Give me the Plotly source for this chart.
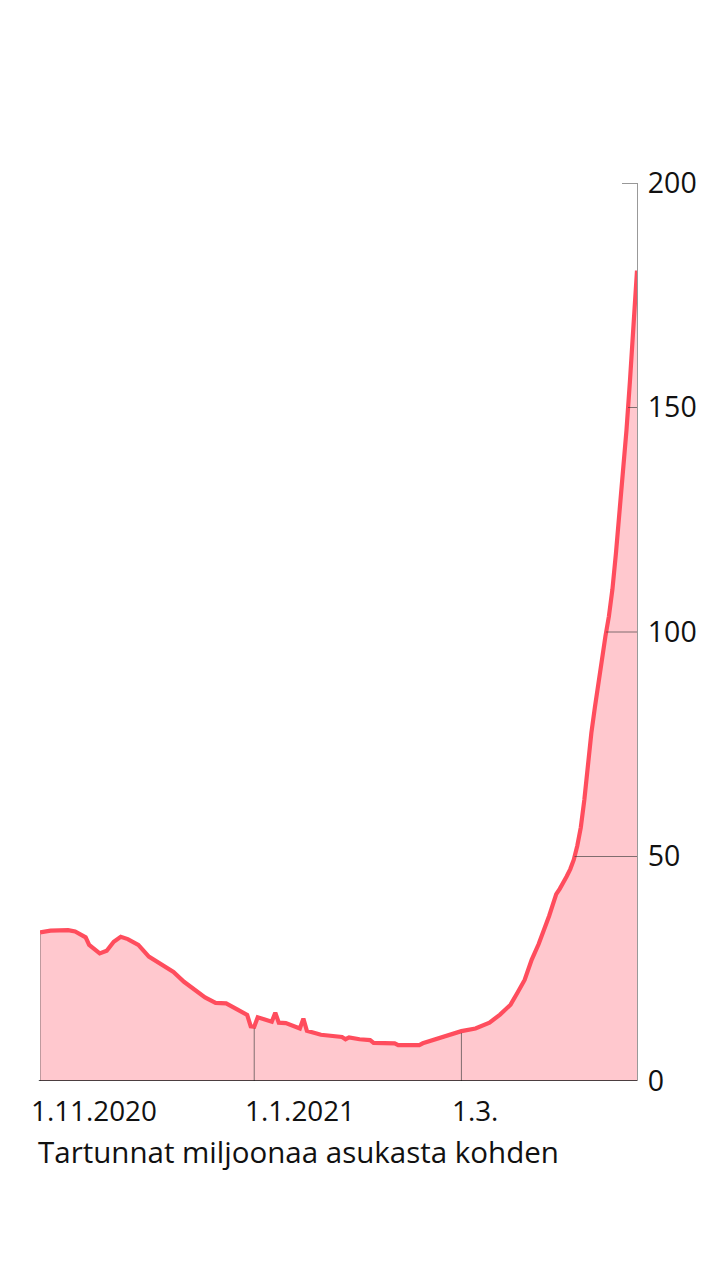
import plotly.graph_objects as go
import pandas as pd
import numpy as np

dates = [
    "2020-11-01", "2020-11-04", "2020-11-09", "2020-11-11", "2020-11-14", "2020-11-15",
    "2020-11-18", "2020-11-20", "2020-11-22", "2020-11-24", "2020-11-26", "2020-11-29",
    "2020-12-02", "2020-12-06", "2020-12-09", "2020-12-12", "2020-12-15", "2020-12-18",
    "2020-12-21", "2020-12-24", "2020-12-27", "2020-12-30", "2020-12-31",
    "2021-01-01", "2021-01-02", "2021-01-05", "2021-01-06", "2021-01-07", "2021-01-08",
    "2021-01-10", "2021-01-14", "2021-01-15", "2021-01-16", "2021-01-20", "2021-01-24",
    "2021-01-26", "2021-01-27", "2021-01-28", "2021-01-31", "2021-02-03", "2021-02-04",
    "2021-02-07", "2021-02-10", "2021-02-11", "2021-02-17", "2021-02-18", "2021-02-22",
    "2021-02-25", "2021-03-01", "2021-03-05", "2021-03-09", "2021-03-12", "2021-03-15",
    "2021-03-17", "2021-03-19", "2021-03-21", "2021-03-23", "2021-03-26", "2021-03-28",
    "2021-03-29", "2021-03-30", "2021-03-31", "2021-04-01", "2021-04-02", "2021-04-03",
    "2021-04-04", "2021-04-05", "2021-04-06", "2021-04-07", "2021-04-08", "2021-04-09",
    "2021-04-10", "2021-04-11", "2021-04-12", "2021-04-13", "2021-04-14", "2021-04-15",
    "2021-04-16", "2021-04-17", "2021-04-18", "2021-04-19", "2021-04-20",
]
cases = [
    33.1, 33.5, 33.6, 33.3, 32.0, 30.3,
    28.4, 29.0, 31.0, 32.1, 31.6, 30.3,
    27.7, 25.7, 24.3, 22.1, 20.4, 18.6,
    17.4, 17.3, 16.0, 14.7, 12.2,
    12.1, 14.2, 13.4, 13.2, 15.2, 13.0,
    12.9, 11.7, 13.9, 11.2, 10.3, 10.0,
    9.8, 9.3, 9.7, 9.3, 9.1, 8.5,
    8.4, 8.4, 8.0, 8.0, 8.4, 9.3,
    10.2, 11.1, 11.7, 13.0, 14.8, 17.0,
    19.7, 22.5, 27.0, 30.5, 36.8, 41.6,
    42.8, 44.0, 45.6, 47.2, 49.3, 52.4,
    56.5, 62.6, 70.5, 77.5, 83.2, 89.0,
    94.2, 99.0, 103.5, 109.5, 117.5, 126.3,
    135.1, 144.9, 156.0, 169.0, 180.5,
]

x_tick_dates = ["2020-11-01", "2021-01-01", "2021-03-01"]
x_tick_labels = ["1.11.2020", "1.1.2021", "1.3."]
y_ticks = [0, 50, 100, 150, 200]
grid_levels = [50, 100, 150]
title_text = "Tartunnat miljoonaa asukasta kohden"

LINE = "#ff4d5d"
FILL = "#ffc8ce"
FONT = "Open Sans"
GRID = "rgba(60,60,60,0.65)"

d = pd.to_datetime(dates)
t = d.astype("int64").to_numpy() / 1e9
v = np.array(cases)

fig = go.Figure()
fig.add_trace(go.Scatter(
    x=d, y=cases, mode="lines", fill="tozeroy", fillcolor=FILL,
    line=dict(color=LINE, width=4.2), hoverinfo="skip", showlegend=False,
))

shapes = []
# vertical grid lines, drawn only under the curve
for xd in x_tick_dates:
    tx = pd.Timestamp(xd).value / 1e9
    yv = float(np.interp(tx, t, v))
    shapes.append(dict(type="line", xref="x", yref="y", x0=xd, x1=xd, y0=0, y1=yv - 0.4,
                       line=dict(color=GRID, width=1), layer="above"))
# horizontal grid lines, only under the curve (from crossing to the end)
for lvl in grid_levels:
    idx = np.where(v >= lvl)[0][0]
    t0, t1 = t[idx - 1], t[idx]
    v0, v1 = v[idx - 1], v[idx]
    tc = t0 + (lvl - v0) / (v1 - v0) * (t1 - t0)
    xc = pd.to_datetime(tc, unit="s")
    shapes.append(dict(type="line", xref="x", yref="y", x0=xc, x1=d[-1], y0=lvl, y1=lvl,
                       line=dict(color=GRID, width=1), layer="above"))
# short tick at the top of the axis
shapes.append(dict(type="line", xref="paper", yref="y", x0=1 - 15 / 597, x1=1, y0=200, y1=200,
                   line=dict(color="#333", width=1)))
# baseline
shapes.append(dict(type="line", xref="paper", yref="y", x0=-0.002, x1=1, y0=0, y1=0,
                   line=dict(color="#111", width=1.5), layer="above"))

annotations = []
for xd, lab in zip(x_tick_dates, x_tick_labels):
    annotations.append(dict(x=xd, y=0, xref="x", yref="y", text=lab, showarrow=False,
                            xanchor="left", yanchor="middle", xshift=-11, yshift=-29,
                            font=dict(family=FONT, size=27.8, color="#111")))
annotations.append(dict(x=0, y=0, xref="paper", yref="y", text=title_text, showarrow=False,
                        xanchor="left", yanchor="middle", xshift=-4, yshift=-70,
                        font=dict(family=FONT, size=29.5, color="#111")))

fig.update_layout(
    width=720, height=1280,
    margin=dict(l=32, r=91, t=175, b=207),
    paper_bgcolor="white", plot_bgcolor="white",
    showlegend=False,
    shapes=shapes, annotations=annotations,
    xaxis=dict(range=[d[0], d[-1]], showgrid=False, zeroline=False, showticklabels=False,
               ticks="", showline=False, fixedrange=True),
    yaxis=dict(range=[0, 200], side="right", tickvals=y_ticks, ticktext=[str(y) for y in y_ticks],
               showgrid=False, zeroline=False, ticks="", showline=True,
               linecolor="#999", linewidth=1.2, ticklabelstandoff=4,
               tickfont=dict(family=FONT, size=28.5, color="#111"), fixedrange=True),
)

fig.write_html("out.html")
